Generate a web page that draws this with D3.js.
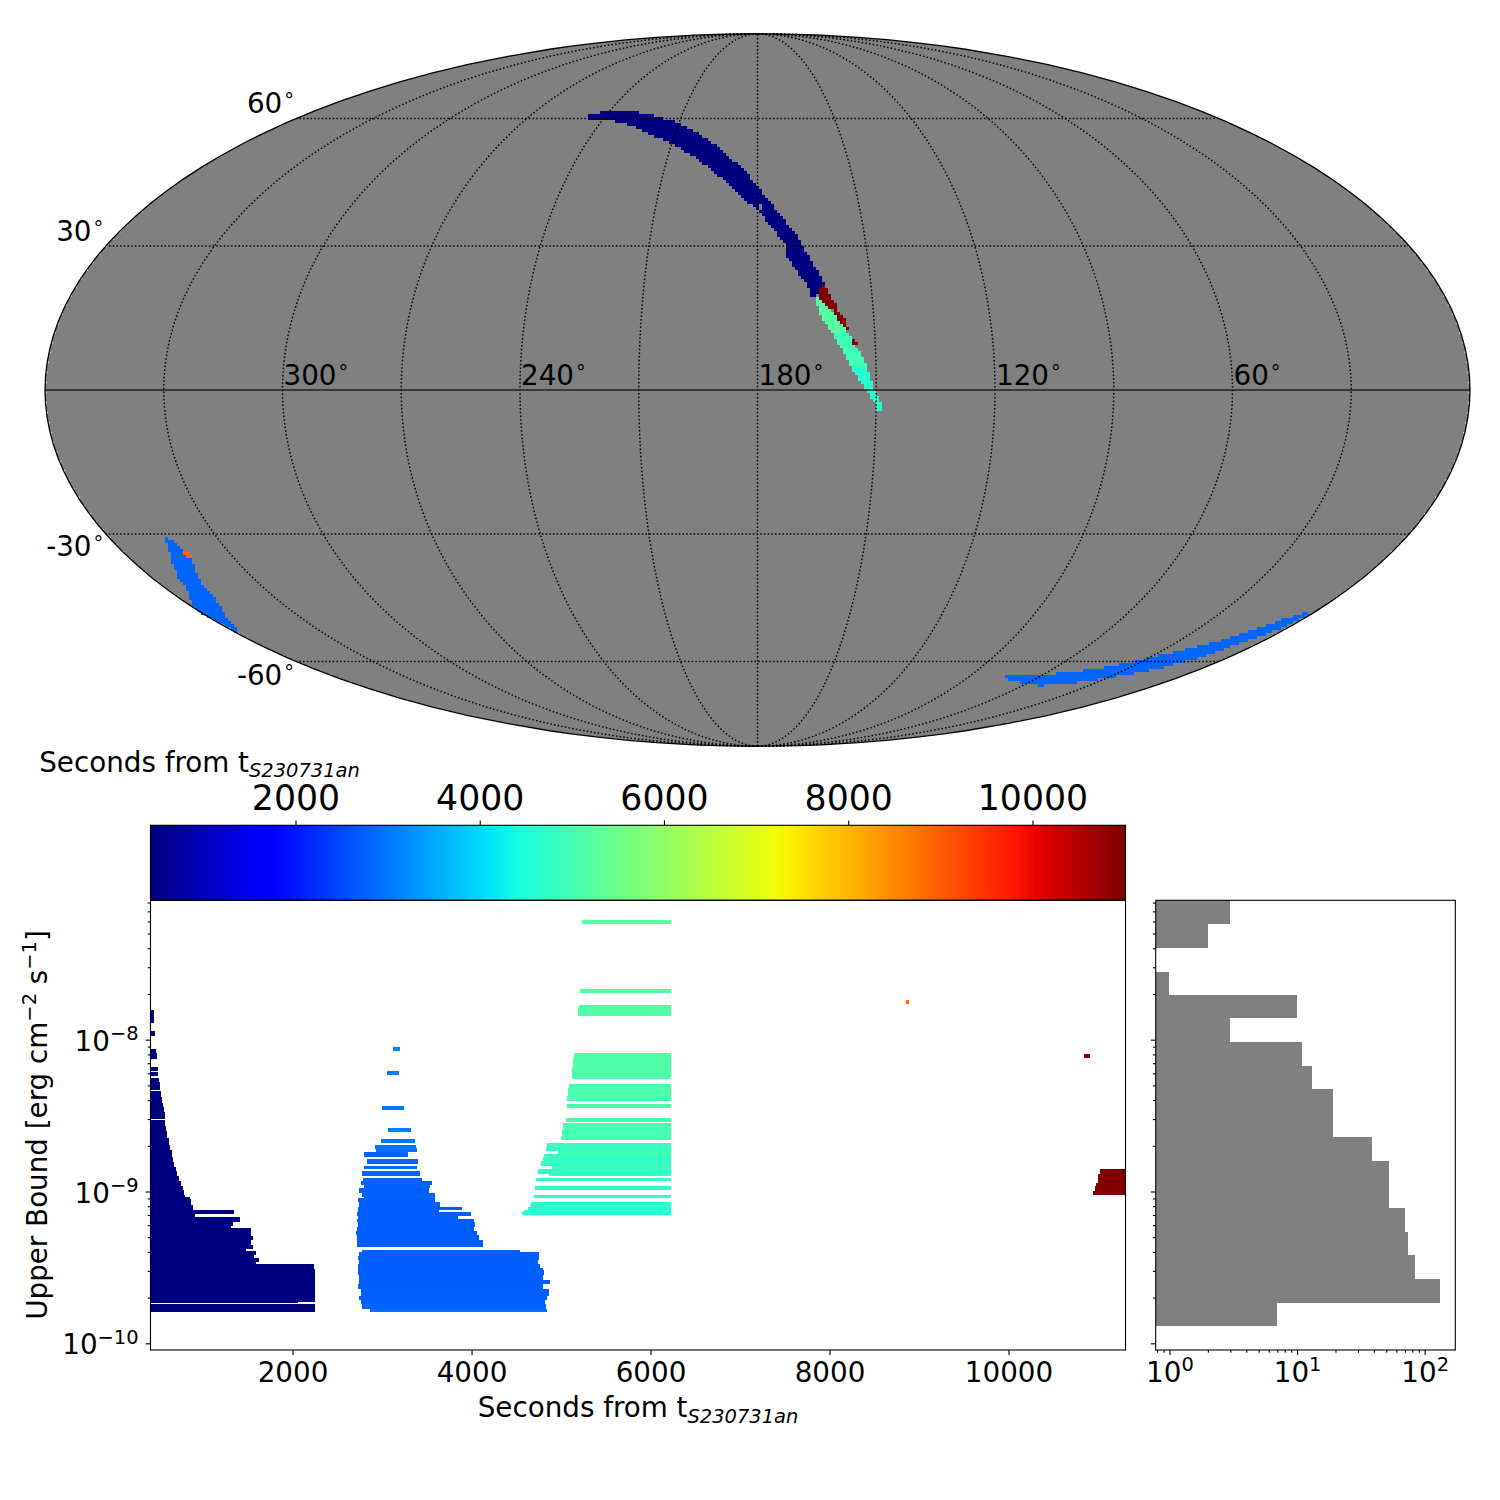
<!DOCTYPE html>
<html><head><meta charset="utf-8">
<script src="https://cdn.jsdelivr.net/npm/d3@7"></script>
<style>
html,body{margin:0;padding:0;background:#fff}
text{font-family:"DejaVu Sans",sans-serif;fill:#000}
</style></head><body>
<svg id="chart" width="1500" height="1500" xmlns="http://www.w3.org/2000/svg"></svg>
<script>
// ---------- sky regions: [longitude, latitude] outlines, with their time in seconds
const navySky = [[246.9,60.6],[243.2,61.4],[238.6,62.0],[231.4,61.6],[223.4,60.9],[218.1,60.0],[213.8,59.4],[207.9,58.0],[201.6,56.1],[195.5,53.6],[188.5,49.5],[184.6,47.5],[180.2,43.4],[177.2,40.6],[173.9,37.2],[169.0,32.4],[167.8,29.9],[165.6,27.0],[163.3,23.8],[162.4,21.7],[164.9,19.2],[166.2,19.6],[166.2,21.0],[169.1,24.2],[171.9,27.7],[171.9,29.9],[176.4,34.6],[180.7,38.7],[184.7,40.6],[186.9,42.5],[190.5,44.8],[196.0,47.9],[200.2,49.9],[209.5,53.6],[219.2,56.1],[226.7,58.0],[234.3,59.4],[241.5,60.0],[246.1,60.0]];
const holeSky = [[179.9,39.1],[178.7,39.1],[178.7,38.2],[179.9,38.2]];
const maroonSky = [[163.8,20.3],[162.6,21.5],[161.4,20.6],[161.3,18.6],[159.8,17.9],[159.5,16.1],[157.7,15.1],[157.5,13.6],[156.1,12.3],[156.7,12.0],[158.6,13.4],[159.9,16.1],[162.0,17.5],[163.7,18.6]];
const maroonDotSky = [[156.0,10.1],[154.9,10.1],[154.9,9.2],[156.0,9.2]];
const mintSkyA = [[164.9,19.2],[163.7,18.9],[162.0,17.3],[160.0,15.8],[158.6,13.7],[157.2,12.0],[160.6,11.3],[162.9,14.4],[164.2,17.2]];
const mintSkyB = [[157.2,12.0],[155.7,10.3],[154.8,8.6],[153.3,6.5],[152.2,4.1],[156.2,4.8],[158.6,8.6],[160.6,11.3]];
const mintSkyC = [[152.2,4.1],[151.1,0.7],[149.5,-1.7],[148.3,-4.1],[149.4,-4.7],[150.3,-2.4],[152.3,-0.3],[154.1,2.0],[156.2,4.8]];
const blueSkyLeft = [[344.7,-30.6],[343.3,-31.7],[342.8,-33.9],[342.7,-35.3],[344.7,-37.9],[347.2,-40.9],[348.6,-43.6],[351.1,-46.4],[356.3,-50.3],[356.5,-51.5],[358.9,-52.5],[359.3,-51.5],[358.9,-49.5],[359.9,-48.3],[359.8,-46.7],[353.6,-42.1],[352.1,-39.8],[348.4,-35.7],[345.5,-32.8]];
const orangeSky = [[343.0,-34.2],[341.9,-34.2],[341.7,-35.0],[342.5,-35.6],[343.2,-34.8]];
const blueSkyRight = [[75.6,-63.9],[68.8,-63.9],[59.8,-64.1],[51.2,-63.2],[41.4,-62.3],[36.5,-61.2],[30.6,-59.6],[22.7,-57.4],[16.2,-55.3],[10.1,-52.1],[6.1,-49.5],[1.5,-47.4],[0.7,-48.7],[2.1,-50.7],[4.7,-53.4],[7.9,-55.7],[11.4,-58.7],[18.5,-61.8],[29.2,-63.9],[39.5,-65.5],[52.7,-66.4],[64.5,-65.5],[74.4,-64.4]];

const lonLabels = [300,240,180,120,60];
const latLabels = [60,30,-30,-60];

// ---------- exposures: [log10 bound high, log10 bound low, start s, end s]
const navyRows = [[-7.803,-7.893,419,447],[-7.945,-7.974,419,459],[-8.059,-8.086,419,470],[-8.086,-8.125,419,481],[-8.178,-8.204,419,492],[-8.211,-8.237,419,492],[-8.250,-8.276,419,503],[-8.276,-8.329,419,514],[-8.336,-8.380,419,526],[-8.380,-8.419,419,537],[-8.419,-8.441,419,548],[-8.441,-8.474,419,559],[-8.474,-8.524,419,570],[-8.531,-8.566,419,570],[-8.566,-8.599,419,581],[-8.599,-8.645,419,593],[-8.645,-8.691,419,615],[-8.691,-8.724,419,626],[-8.724,-8.770,419,648],[-8.770,-8.809,419,660],[-8.809,-8.836,419,671],[-8.836,-8.862,419,693],[-8.862,-8.895,419,704],[-8.895,-8.928,419,727],[-8.928,-8.961,419,749],[-8.961,-8.993,419,771],[-8.993,-9.020,419,782],[-9.020,-9.038,419,794],[-9.038,-9.051,419,850],[-9.051,-9.090,419,861],[-9.090,-9.125,419,883],[-9.125,-9.151,419,1341],[-9.151,-9.169,419,905],[-9.169,-9.202,419,1408],[-9.202,-9.230,419,1330],[-9.230,-9.243,419,1307],[-9.243,-9.296,419,1531],[-9.296,-9.322,419,1553],[-9.322,-9.355,419,1531],[-9.355,-9.382,419,1553],[-9.382,-9.395,419,1475],[-9.395,-9.421,419,1587],[-9.421,-9.441,419,1564],[-9.441,-9.467,419,1620],[-9.467,-9.480,419,1587],[-9.480,-9.511,419,2235],[-9.511,-9.603,419,2246],[-9.603,-9.673,419,2246],[-9.673,-9.726,419,2246],[-9.726,-9.735,419,2056],[-9.743,-9.796,419,2246]];
const blueRows = [[-8.046,-8.072,3117,3206],[-8.204,-8.230,3061,3184],[-8.434,-8.461,3005,3240],[-8.579,-8.605,3072,3329],[-8.651,-8.678,2983,3363],[-8.691,-8.717,2916,3385],[-8.711,-8.737,2927,3396],[-8.743,-8.776,2793,3285],[-8.789,-8.822,2827,3407],[-8.829,-8.855,2793,3396],[-8.862,-8.901,2771,3419],[-8.908,-8.928,2782,3441],[-8.928,-8.954,2760,3553],[-8.954,-8.980,2804,3541],[-8.980,-9.007,2748,3530],[-9.007,-9.033,2771,3597],[-9.033,-9.046,2793,3597],[-9.046,-9.072,2737,3597],[-9.072,-9.099,2748,3653],[-9.099,-9.125,2726,3888],[-9.125,-9.138,2726,3642],[-9.138,-9.164,2715,3999],[-9.164,-9.178,2737,3854],[-9.178,-9.204,2715,4022],[-9.204,-9.237,2737,4044],[-9.237,-9.263,2715,4022],[-9.263,-9.289,2704,4066],[-9.289,-9.322,2715,4089],[-9.322,-9.368,2715,4133],[-9.388,-9.401,2771,4547],[-9.401,-9.428,2748,4759],[-9.428,-9.454,2726,4759],[-9.454,-9.476,2748,4748],[-9.476,-9.502,2737,4770],[-9.502,-9.520,2737,4793],[-9.520,-9.553,2726,4815],[-9.553,-9.586,2748,4793],[-9.586,-9.612,2748,4882],[-9.612,-9.645,2726,4804],[-9.645,-9.678,2760,4871],[-9.678,-9.691,2760,4860],[-9.691,-9.717,2748,4848],[-9.717,-9.743,2760,4826],[-9.743,-9.774,2771,4837],[-9.774,-9.796,2860,4848]];
const mintRows = [[-7.211,-7.237,5239,6233],[-7.664,-7.691,5217,6233],[-7.770,-7.789,5206,6233],[-7.789,-7.842,5195,6233],[-8.086,-8.118,5150,6233],[-8.118,-8.178,5139,6233],[-8.178,-8.257,5128,6233],[-8.289,-8.316,5094,6233],[-8.316,-8.368,5083,6233],[-8.368,-8.401,5072,6233],[-8.421,-8.447,5072,6233],[-8.513,-8.539,5061,6233],[-8.546,-8.592,5027,6233],[-8.592,-8.638,5016,6233],[-8.638,-8.664,5005,6233],[-8.678,-8.704,4848,6233],[-8.704,-8.730,4837,6233],[-8.730,-8.750,4971,6233],[-8.750,-8.770,4815,6233],[-8.770,-8.796,4793,6233],[-8.796,-8.829,4781,6233],[-8.829,-8.855,4904,6233],[-8.855,-8.888,4748,6233],[-8.888,-8.895,4871,6233],[-8.908,-8.934,4725,6233],[-8.967,-8.993,4714,6233],[-9.020,-9.046,4703,6233],[-9.066,-9.092,4670,6233],[-9.092,-9.105,4658,6233],[-9.105,-9.125,4636,6233],[-9.125,-9.132,4591,6233],[-9.132,-9.158,4569,6233]];
const maroonRows = [[-8.092,-8.118,10847,10914],[-8.855,-8.882,11025,11307],[-8.882,-8.941,11003,11307],[-8.941,-8.967,10981,11307],[-8.967,-9.000,10970,11307],[-9.000,-9.026,10947,11307]];
const orangeRows = [[-7.740,-7.763,8853,8887]];

// ---------- histogram of bounds
const histEdges = [-9.886,-9.735,-9.577,-9.419,-9.268,-9.110,-8.959,-8.801,-8.643,-8.485,-8.327,-8.176,-8.018,-7.860,-7.709,-7.551,-7.393,-7.241,-7.08];
const histCounts = [7,133,84,74,70,53,53,39,19,19,13,11,3,10,1,0,2,3];

const timeTicks = [2000,4000,6000,8000,10000];
const boundExponents = [-10,-9,-8];
const histExponents = [0,1,2];
const xLabelMain = "Seconds from t", xLabelSub = "S230731an";

// ---------- colour: the jet map
const jetR = d3.scaleLinear().domain([0,.35,.66,.89,1]).range([0,0,1,1,.5]).clamp(true);
const jetG = d3.scaleLinear().domain([0,.125,.375,.64,.91,1]).range([0,0,1,1,0,0]).clamp(true);
const jetB = d3.scaleLinear().domain([0,.11,.34,.65,1]).range([.5,1,1,0,0]).clamp(true);
const jet = f => `rgb(${Math.round(jetR(f)*255)},${Math.round(jetG(f)*255)},${Math.round(jetB(f)*255)})`;
const cbarScale = d3.scaleLinear().domain([426,11010]).range([150.5,1125.5]);
const tFrac = t => (t-426)/(11010-426);
const timeColor = t => jet(Math.min(1,Math.max(0,tFrac(t))));

const svg = d3.select("#chart");
const FS = 27.78, LW = 1.1, MAJ = 4.9, MIN = 2.8;

// ---------- Mollweide
function mollweideRaw(lambda, phi){
  let th = phi;
  if (Math.abs(Math.abs(phi)-Math.PI/2) > 1e-9)
    for (let i=0;i<40;i++){ const d=(2*th+Math.sin(2*th)-Math.PI*Math.sin(phi))/(2+2*Math.cos(2*th)); th-=d; if(Math.abs(d)<1e-9)break; }
  return [2*Math.SQRT2/Math.PI*lambda*Math.cos(th), Math.SQRT2*Math.sin(th)];
}
const projection = d3.geoProjection(mollweideRaw).rotate([-180,0]).reflectX(true).scale(251.9).translate([757.5,390]).precision(.2);
const geoPath = d3.geoPath(projection);

const sky = svg.append("g");
sky.append("path").datum({type:"Sphere"}).attr("d",geoPath).attr("fill","#808080");

// pixelised sky patches
const regions = [
  {pts:navySky,t:430},{pts:holeSky,fill:"#808080"},
  {pts:mintSkyA,t:5230},{pts:mintSkyB,t:4950},{pts:mintSkyC,t:4620},
  {pts:maroonSky,t:11000},{pts:maroonDotSky,t:11000},
  {pts:blueSkyLeft,t:2790},{pts:orangeSky,t:8870},{pts:blueSkyRight,t:2810}
];
const CELL = 3;
regions.forEach(r=>{
  const poly = r.pts.map(p=>projection(p));
  const xs = poly.map(p=>p[0]), ys = poly.map(p=>p[1]);
  const fill = r.fill || timeColor(r.t);
  const cells = [];
  const probes = [[1.5,1.5],[0.3,0.3],[2.7,0.3],[0.3,2.7],[2.7,2.7]];
  for (let x=Math.floor(d3.min(xs)/CELL)*CELL-CELL; x<d3.max(xs)+CELL; x+=CELL)
    for (let y=Math.floor(d3.min(ys)/CELL)*CELL-CELL; y<d3.max(ys)+CELL; y+=CELL)
      if (probes.filter(o=>d3.polygonContains(poly,[x+o[0],y+o[1]])).length>=2) cells.push([x,y]);
  sky.append("g").attr("shape-rendering","crispEdges").selectAll("rect").data(cells).join("rect")
    .attr("x",d=>d[0]).attr("y",d=>d[1]).attr("width",CELL).attr("height",CELL).attr("fill",fill);
});

// graticule
const gratLons = d3.range(30,360,30);
const gratLats = [-60,-30,30,60];
const lineOf = coords => ({type:"LineString",coordinates:coords});
gratLons.forEach(l=>{
  sky.append("path").datum(lineOf(d3.range(-90,90.5,1).map(a=>[l,a]))).attr("d",geoPath)
    .attr("fill","none").attr("stroke","#000").attr("stroke-width",1.5).attr("stroke-dasharray","1.5 2.2");
});
gratLats.forEach(a=>{
  sky.append("path").datum(lineOf(d3.range(0.01,360,1).concat([359.99]).map(l=>[l,a]))).attr("d",geoPath)
    .attr("fill","none").attr("stroke","#000").attr("stroke-width",1.5).attr("stroke-dasharray","1.5 2.2");
});
sky.append("path").datum(lineOf(d3.range(0.01,360,1).concat([359.99]).map(l=>[l,0]))).attr("d",geoPath)
  .attr("fill","none").attr("stroke","#222").attr("stroke-width",1.6);
// white specks along the lower and left rim, then the rim itself
[359.75,0.25].forEach(l=>{
  sky.append("path").datum(lineOf(d3.range(-89,40,1).map(a=>[l,a]))).attr("d",geoPath)
    .attr("fill","none").attr("stroke","#fff").attr("stroke-width",1.1).attr("stroke-dasharray","1.6 8.5");
});
sky.append("path").datum({type:"Sphere"}).attr("d",geoPath).attr("fill","none").attr("stroke","#000").attr("stroke-width",1.3);

function degreeLabel(sel,txt){
  sel.append("tspan").text(txt);
  sel.append("tspan").attr("font-size",FS*.7).attr("dx",2).attr("dy",-6).text("°");
}
lonLabels.forEach(l=>{
  const p = projection([l,0]);
  degreeLabel(svg.append("text").attr("x",p[0]+1).attr("y",p[1]-5.5).attr("font-size",FS),l);
});
const latDy = {"60":-5.5,"30":-5.5,"-30":22.5,"-60":23};
latLabels.forEach(a=>{
  const p = projection([359.99,a]);
  degreeLabel(svg.append("text").attr("x",p[0]-2.5).attr("y",p[1]+latDy[a]).attr("text-anchor","end").attr("font-size",FS),a);
});

// helpers
function axisStyle(g){
  g.selectAll(".domain").remove();
  g.selectAll(".tick line").attr("stroke","#000").attr("stroke-width",LW);
  g.selectAll("text").attr("font-size",FS).attr("fill","#000").style("font-family",'"DejaVu Sans",sans-serif');
}
function timeLabel(x,y){
  const t = svg.append("text").attr("x",x).attr("y",y).attr("text-anchor","middle").attr("font-size",FS);
  t.append("tspan").text(xLabelMain);
  t.append("tspan").attr("font-size",FS*.7).attr("font-style","italic").attr("dy",FS*.2).text(xLabelSub);
}
function powerText(sel,exp){
  sel.text("");
  sel.append("tspan").text("10");
  sel.append("tspan").attr("font-size",FS*.7).attr("dy",-FS*.385).text(String(exp).replace("-","−"));
}
const minorsBetween = (lo,hi)=>{const o=[];for(let e=lo;e<=hi;e++)for(let m=2;m<10;m++)o.push(m*Math.pow(10,e));return o;};

// ---------- colourbar
const cbY0 = 825.3, cbY1 = 900.3;
const cbar = svg.append("g");
cbar.append("g").attr("shape-rendering","crispEdges").selectAll("rect").data(d3.range(256)).join("rect")
  .attr("x",i=>150.5+975*i/256).attr("width",975/256+.6).attr("y",cbY0).attr("height",cbY1-cbY0)
  .attr("fill",i=>jet(i/255));
cbar.append("rect").attr("x",150.5).attr("y",cbY0).attr("width",975).attr("height",cbY1-cbY0)
  .attr("fill","none").attr("stroke","#000").attr("stroke-width",LW);
const cbAxis = svg.append("g").attr("transform",`translate(0,${cbY0})`)
  .call(d3.axisTop(cbarScale).tickValues(timeTicks).tickSize(MAJ).tickPadding(10.5).tickFormat(d3.format("d")));
axisStyle(cbAxis);
cbAxis.selectAll("text").attr("font-size",34.7);
timeLabel(199.5,771.5);

// ---------- main panel
const xL=150.5,xR=1125.5,yT=900.3,yB=1350;
const xScale = d3.scaleLinear().domain([413,11307]).range([xL,xR]);
const yScale = d3.scaleLog().domain([Math.pow(10,-10.044),Math.pow(10,-7.082)]).range([yB,yT]);
svg.append("defs").append("clipPath").attr("id","mainClip").append("rect")
  .attr("x",xL).attr("y",yT).attr("width",xR-xL).attr("height",yB-yT);
const rowsG = svg.append("g").attr("clip-path","url(#mainClip)").attr("shape-rendering","crispEdges");
[navyRows,blueRows,mintRows,orangeRows,maroonRows].forEach(rows=>{
  rowsG.append("g").selectAll("rect").data(rows).join("rect")
    .attr("x",d=>xScale(d[2])).attr("width",d=>xScale(d[3])-xScale(d[2]))
    .attr("y",d=>yScale(Math.pow(10,d[0]))).attr("height",d=>yScale(Math.pow(10,d[1]))-yScale(Math.pow(10,d[0])))
    .attr("fill",d=>timeColor(d[2]));
});
svg.append("rect").attr("x",xL).attr("y",yT).attr("width",xR-xL).attr("height",yB-yT)
  .attr("fill","none").attr("stroke","#000").attr("stroke-width",LW);
const xAxisG = svg.append("g").attr("transform",`translate(0,${yB})`)
  .call(d3.axisBottom(xScale).tickValues(timeTicks).tickSize(MAJ).tickPadding(7).tickFormat(d3.format("d")));
axisStyle(xAxisG);
const boundMajors = boundExponents.map(e=>Math.pow(10,e));
const boundMinors = minorsBetween(-11,-8).filter(v=>v>yScale.domain()[0]&&v<yScale.domain()[1]);
const yMinG = svg.append("g").attr("transform",`translate(${xL},0)`)
  .call(d3.axisLeft(yScale).tickValues(boundMinors).tickSize(MIN).tickFormat(""));
axisStyle(yMinG);
const yAxisG = svg.append("g").attr("transform",`translate(${xL},0)`)
  .call(d3.axisLeft(yScale).tickValues(boundMajors).tickSize(MAJ).tickPadding(7).tickFormat(""));
axisStyle(yAxisG);
yAxisG.selectAll(".tick text").data(boundExponents).each(function(e){
  d3.select(this).attr("dy","0.38em");
  powerText(d3.select(this),e);
});
timeLabel((xL+xR)/2,1417);

// y label
const yl = svg.append("text").attr("transform","translate(47,1125) rotate(-90)").attr("text-anchor","middle").attr("font-size",FS);
yl.append("tspan").text("Upper Bound [erg cm");
yl.append("tspan").attr("font-size",FS*.7).attr("dy",-FS*.4).text("−2");
yl.append("tspan").attr("dy",FS*.4).text(" s");
yl.append("tspan").attr("font-size",FS*.7).attr("dy",-FS*.4).text("−1");
yl.append("tspan").attr("dy",FS*.4).text("]");

// ---------- histogram
const hL=1155.7,hR=1455.3;
const hScale = d3.scaleLog().domain([Math.pow(10,-.108),Math.pow(10,2.24)]).range([hL,hR]);
svg.append("g").attr("shape-rendering","crispEdges").selectAll("rect")
  .data(histCounts.map((c,i)=>({c,hi:histEdges[i+1],lo:histEdges[i]})).filter(d=>d.c>0)).join("rect")
  .attr("x",hL).attr("width",d=>hScale(d.c)-hL)
  .attr("y",d=>Math.max(yT,yScale(Math.pow(10,d.hi))))
  .attr("height",d=>yScale(Math.pow(10,d.lo))-Math.max(yT,yScale(Math.pow(10,d.hi))))
  .attr("fill","#808080");
svg.append("rect").attr("x",hL).attr("y",yT).attr("width",hR-hL).attr("height",yB-yT)
  .attr("fill","none").attr("stroke","#000").attr("stroke-width",LW);
const hYmin = svg.append("g").attr("transform",`translate(${hL},0)`)
  .call(d3.axisLeft(yScale).tickValues(boundMinors).tickSize(MIN).tickFormat(""));
axisStyle(hYmin);
const hYmaj = svg.append("g").attr("transform",`translate(${hL},0)`)
  .call(d3.axisLeft(yScale).tickValues(boundMajors).tickSize(MAJ).tickFormat(""));
axisStyle(hYmaj);
const hMinors = minorsBetween(-1,2).filter(v=>v>hScale.domain()[0]&&v<hScale.domain()[1]);
const hXmin = svg.append("g").attr("transform",`translate(0,${yB})`)
  .call(d3.axisBottom(hScale).tickValues(hMinors).tickSize(MIN).tickFormat(""));
axisStyle(hXmin);
const hXmaj = svg.append("g").attr("transform",`translate(0,${yB})`)
  .call(d3.axisBottom(hScale).tickValues(histExponents.map(e=>Math.pow(10,e))).tickSize(MAJ).tickPadding(7).tickFormat(""));
axisStyle(hXmaj);
hXmaj.selectAll(".tick text").data(histExponents).each(function(e){ powerText(d3.select(this),e); });
</script>
</body></html>
